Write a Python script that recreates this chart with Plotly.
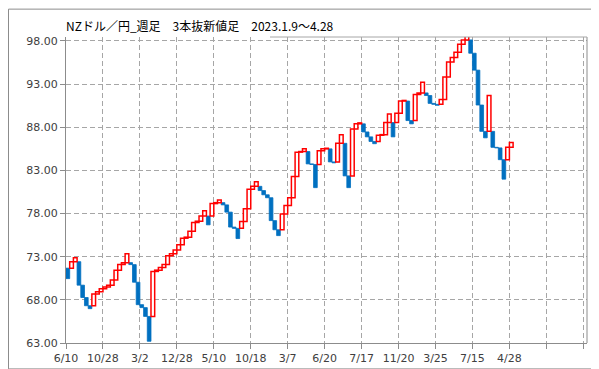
import plotly.graph_objects as go

# ---- data (3-line-break bars, open -> close) ----
bar_open = [
    71.67, 71.67, 72.42, 72.42, 69.70, 68.27, 67.32, 67.32, 68.68, 68.95,
    69.29, 69.48, 69.70, 70.31, 71.44, 72.08, 72.31, 72.31, 72.08, 70.04,
    67.44, 67.10, 66.08, 66.08, 71.29, 71.44, 71.74, 72.08, 73.10, 73.33,
    73.78, 74.39, 75.14, 75.26, 75.94, 76.96, 77.11, 77.71, 77.71, 77.71,
    79.15, 79.26, 79.26, 79.00, 78.16, 76.43, 76.28, 76.28, 77.07, 78.54,
    80.81, 81.15, 81.15, 80.66, 80.17, 79.83, 77.18, 76.12, 76.12, 77.94,
    78.92, 79.83, 82.28, 85.11, 85.18, 85.18, 83.75, 83.68, 83.68, 85.26,
    85.49, 85.49, 83.98, 83.98, 86.13, 86.13, 82.36, 82.36, 87.78, 88.39,
    88.39, 87.45, 86.88, 86.35, 86.35, 87.07, 87.14, 88.54, 88.54, 88.54,
    89.63, 91.03, 91.03, 88.77, 88.77, 91.78, 91.97, 91.97, 91.67, 90.76,
    90.65, 90.65, 91.22, 93.82, 95.55, 96.08, 96.68, 97.62, 98.11, 98.11,
    96.57, 94.61, 90.57, 87.52, 87.52, 87.52, 85.67, 85.60, 84.24, 84.24,
    85.67,
]
bar_close = [
    70.46, 72.42, 72.88, 69.70, 68.27, 67.32, 66.98, 68.68, 68.95, 69.29,
    69.48, 69.70, 70.31, 71.44, 72.08, 72.31, 73.33, 72.08, 70.04, 67.44,
    67.10, 66.08, 63.20, 71.29, 71.44, 71.74, 72.08, 73.10, 73.33, 73.78,
    74.39, 75.14, 75.26, 75.94, 76.96, 77.11, 77.71, 78.32, 76.69, 79.15,
    79.26, 79.56, 79.00, 78.16, 76.43, 76.28, 75.10, 77.07, 78.54, 80.81,
    81.15, 81.68, 80.66, 80.17, 79.83, 77.18, 76.12, 75.44, 77.94, 78.92,
    79.83, 82.28, 85.11, 85.18, 85.49, 83.75, 83.68, 81.00, 85.26, 85.49,
    85.56, 83.98, 83.87, 86.13, 87.14, 82.36, 81.00, 87.78, 88.39, 88.50,
    87.45, 86.88, 86.35, 86.09, 87.07, 87.14, 88.54, 89.52, 86.88, 89.63,
    91.03, 91.10, 88.77, 88.39, 91.78, 91.97, 93.21, 91.67, 90.76, 90.65,
    90.54, 91.22, 93.82, 95.55, 96.08, 96.68, 97.62, 98.11, 98.57, 96.57,
    94.61, 90.57, 87.52, 86.77, 91.67, 85.67, 85.60, 84.24, 81.98, 85.67,
    86.24,
]
date_labels = ["6/10", "10/28", "3/2", "12/28", "5/10", "10/18", "3/7",
               "6/20", "7/17", "11/20", "3/25", "7/15", "4/28"]
y_ticks = [63, 68, 73, 78, 83, 88, 93, 98]
title_text = "NZドル／円_週足　3本抜新値足　2023.1.9～4.28"

# ---- geometry ----
W, H = 599, 369
ML, MR, MT, MB = 58, 20, 29, 27
PW, PH = W - ML - MR, H - MT - MB


def px_x(p):
    return (p - ML) / PW


def px_y(p):
    return (H - MB - p) / PH


up_x, up_base, up_h = [], [], []
dn_x, dn_base, dn_h = [], [], []
for i, (o, c) in enumerate(zip(bar_open, bar_close)):
    lo, hi = min(o, c), max(o, c)
    if c > o:
        up_x.append(i + 0.5); up_base.append(lo); up_h.append(hi - lo)
    else:
        dn_x.append(i + 0.5); dn_base.append(lo); dn_h.append(hi - lo)

fig = go.Figure()
fig.add_trace(go.Bar(x=dn_x, y=dn_h, base=dn_base, width=1,
                     marker=dict(color="#0070C0", line=dict(color="#0070C0", width=0.8)),
                     hoverinfo="skip"))
fig.add_trace(go.Bar(x=up_x, y=up_h, base=up_base, width=1,
                     marker=dict(color="white", line=dict(color="#FF0000", width=1.5)),
                     hoverinfo="skip"))

n_slots = 141
x_tickvals = list(range(0, 141, 10))
x_ticktext = date_labels + [""] * (len(x_tickvals) - len(date_labels))

fig.update_layout(
    width=W, height=H,
    margin=dict(l=ML, r=MR, t=MT, b=MB, pad=0),
    paper_bgcolor="white", plot_bgcolor="white",
    showlegend=False, barmode="overlay",
    font=dict(family="DejaVu Sans", size=11, color="#404040"),
    xaxis=dict(range=[0, n_slots], tickmode="array", tickvals=x_tickvals,
               ticktext=x_ticktext, showgrid=True, gridcolor="#a6a6a6",
               griddash="5px,3px", gridwidth=1, showline=True, linecolor="#8c8c8c",
               linewidth=1, ticks="outside", ticklen=5, tickcolor="#8c8c8c",
               zeroline=False, fixedrange=True),
    yaxis=dict(range=[63, 98.45], tickmode="array", tickvals=y_ticks,
               tickformat=".2f", showgrid=True, gridcolor="#a6a6a6",
               griddash="5px,3px", gridwidth=1, showline=True, linecolor="#8c8c8c",
               linewidth=1, ticks="outside", ticklen=5, tickcolor="#8c8c8c",
               zeroline=False, fixedrange=True),
    annotations=[dict(text=title_text, xref="paper", yref="paper",
                      x=px_x(56), y=px_y(17), xanchor="left", yanchor="middle",
                      showarrow=False,
                      font=dict(family="Noto Sans CJK JP", size=12, color="#000000"))],
    shapes=[
        dict(type="rect", xref="paper", yref="paper",
             x0=px_x(0.5), x1=px_x(598.5), y0=px_y(368.5), y1=px_y(0.5),
             line=dict(color="#8c8c8c", width=1), fillcolor="rgba(0,0,0,0)"),
        dict(type="line", xref="paper", yref="paper",
             x0=1, x1=1, y0=0, y1=1, line=dict(color="#8c8c8c", width=1)),
        dict(type="line", xref="paper", yref="paper",
             x0=px_x(262), x1=1, y0=1, y1=1, line=dict(color="#a6a6a6", width=1)),
    ],
)

fig.write_html("out.html", config={"displayModeBar": False})
